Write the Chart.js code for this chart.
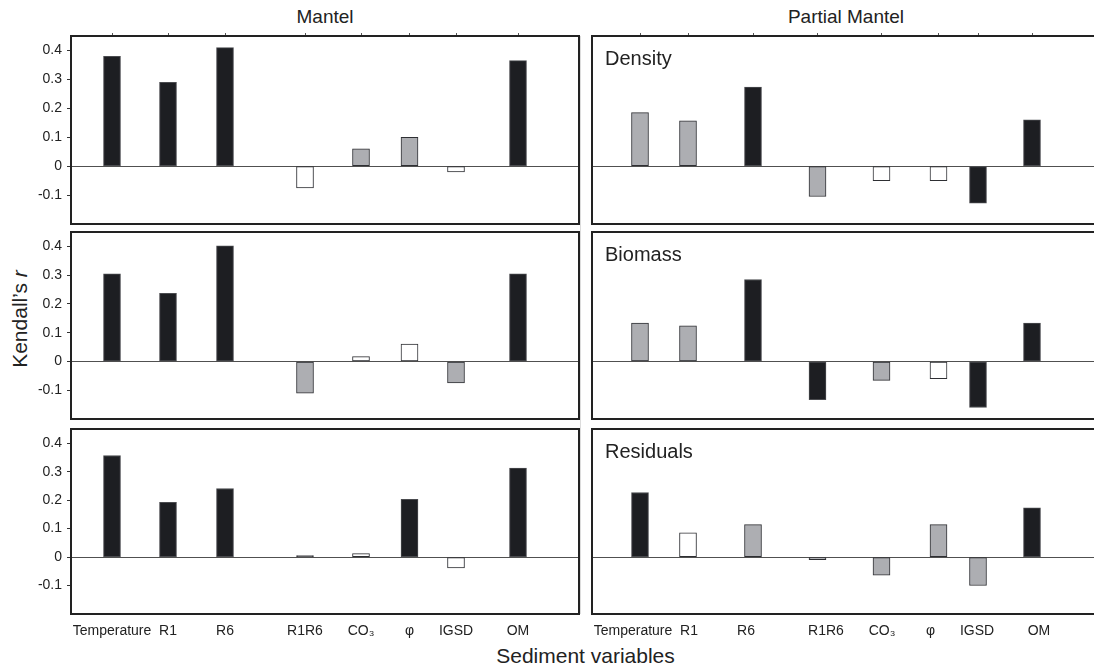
<!DOCTYPE html>
<html>
<head>
<meta charset="utf-8">
<script src="https://cdn.jsdelivr.net/npm/chart.js@4"></script>
<style>
html,body{margin:0;padding:0;background:#fff;overflow:hidden;width:1094px;height:668px;}
body{position:relative;font-family:"Liberation Sans",Arial,Helvetica,sans-serif;color:#222;}
canvas{position:absolute;}
.t{position:absolute;white-space:nowrap;color:#222;}
</style>
</head>
<body>
<div class="t" style="left:71px;top:6px;width:508px;text-align:center;font-size:19px;line-height:22px;">Mantel</div>
<div class="t" style="left:592px;top:6px;width:508px;text-align:center;font-size:19px;line-height:22px;">Partial Mantel</div>
<div class="t" style="left:20px;top:319px;font-size:21px;line-height:24px;transform:translate(-50%,-50%) rotate(-90deg);">Kendall’s <i>r</i></div>
<div class="t" style="left:71px;top:644px;width:1029px;text-align:center;font-size:21px;line-height:24px;">Sediment variables</div>
<div style="position:absolute;left:580px;top:36px;width:1px;height:578px;background:#dcdcdc;"></div>

<canvas id="c00"></canvas><canvas id="c01"></canvas>
<canvas id="c10"></canvas><canvas id="c11"></canvas>
<canvas id="c20"></canvas><canvas id="c21"></canvas>

<script>
// ---------------- data ----------------
const categories = ['Temperature', 'R1', 'R6', 'R1R6', 'CO\u2083', '\u03C6', 'IGSD', 'OM'];
const yTickValues = [-0.1, 0, 0.1, 0.2, 0.3, 0.4];
const panelLabels = ['Density', 'Biomass', 'Residuals'];

// Mantel (left column)
const mantelDensity      = [0.380, 0.290, 0.410, -0.075, 0.060, 0.100, -0.020, 0.365];
const mantelDensitySig   = ['high', 'high', 'high', 'ns', 'mid', 'mid', 'ns', 'high'];
const mantelBiomass      = [0.305, 0.237, 0.402, -0.110, 0.017, 0.060, -0.075, 0.305];
const mantelBiomassSig   = ['high', 'high', 'high', 'mid', 'ns', 'ns', 'mid', 'high'];
const mantelResiduals    = [0.357, 0.192, 0.241, 0.005, 0.012, 0.203, -0.038, 0.313];
const mantelResidualsSig = ['high', 'high', 'high', 'high', 'ns', 'high', 'ns', 'high'];

// Partial Mantel (right column)
const partialDensity      = [0.185, 0.157, 0.273, -0.105, -0.050, -0.050, -0.128, 0.160];
const partialDensitySig   = ['mid', 'mid', 'high', 'mid', 'ns', 'ns', 'high', 'high'];
const partialBiomass      = [0.133, 0.124, 0.285, -0.133, -0.066, -0.060, -0.160, 0.133];
const partialBiomassSig   = ['mid', 'mid', 'high', 'high', 'mid', 'ns', 'high', 'high'];
const partialResiduals    = [0.227, 0.085, 0.114, -0.009, -0.064, 0.114, -0.100, 0.173];
const partialResidualsSig = ['high', 'ns', 'mid', 'mid', 'mid', 'mid', 'mid', 'high'];

// ---------------- layout (positions along each panel's x scale 0..508) ----------------
const labelPos      = [41, 97, 154, 234, 290, 338.5, 385, 447];
const mantelCatPos  = [41, 97, 154, 234, 290, 338.5, 385, 447];
const partialCatPos = [48, 96, 161, 225.5, 289.5, 346.5, 386, 440];
const X_MAX = 508;
const rows = [{top: 36, bottom: 224}, {top: 232, bottom: 419}, {top: 429, bottom: 614}];
const cols = [
  {canvasLeft: 0,   width: 590, axisW: 71, padR: 11},
  {canvasLeft: 582, width: 528, axisW: 10, padR: 10}
];

const FONT = '"Liberation Sans", Arial, Helvetica, sans-serif';
const sigFill   = {high: '#1d1e22', mid: '#adaeb2', ns: '#ffffff'};
const sigBorder = {high: '#4a4b4f', mid: '#2e2f33', ns: '#2e2f33'};

const framePlugin = {
  id: 'frame',
  afterDatasetsDraw(chart, args, opts) {
    const {ctx, chartArea: a} = chart;
    ctx.save();
    ctx.strokeStyle = '#222';
    ctx.lineWidth = 2;
    ctx.strokeRect(a.left, a.top, a.right - a.left, a.bottom - a.top);
    if (opts.label) {
      ctx.fillStyle = '#222';
      ctx.font = '20px ' + FONT;
      ctx.textBaseline = 'alphabetic';
      ctx.textAlign = 'left';
      ctx.fillText(opts.label, a.left + 13, a.top + 29);
    }
    ctx.restore();
  }
};

function noPad(s) { s.paddingTop = 0; s.paddingBottom = 0; s.paddingLeft = 0; s.paddingRight = 0; }

function makePanel(row, col, values, sig, label) {
  const r = rows[row], c = cols[col];
  const isTop = row === 0, isBottom = row === 2;
  const padT = isTop ? 8 : 6;
  const padB = isBottom ? 44 : 6;
  const pos = col === 0 ? mantelCatPos : partialCatPos;
  const canvas = document.getElementById('c' + row + col);
  canvas.width = c.width;
  canvas.height = (r.bottom - r.top) + padT + padB;
  canvas.style.left = c.canvasLeft + 'px';
  canvas.style.top = (r.top - padT) + 'px';

  const scales = {
    x: {
      type: 'linear', min: 0, max: X_MAX, position: 'bottom', offset: false,
      afterBuildTicks: s => { s.ticks = labelPos.map(v => ({value: v})); },
      afterFit: s => { s.height = padB; noPad(s); },
      grid: {display: false, drawTicks: false, offset: false},
      border: {display: false},
      ticks: {
        display: isBottom, autoSkip: false, maxRotation: 0, minRotation: 0, padding: 9,
        color: '#222', font: {family: FONT, size: 14},
        callback: (v, i) => categories[i]
      }
    },
    y: {
      type: 'linear', min: -0.2, max: 0.45, position: 'left',
      afterBuildTicks: s => { s.ticks = yTickValues.map(v => ({value: v})); },
      afterFit: s => { s.width = c.axisW; noPad(s); },
      border: {display: false},
      grid: {
        color: ctx => (ctx.tick && ctx.tick.value === 0) ? '#505050' : 'rgba(0,0,0,0)',
        lineWidth: 1,
        drawTicks: col === 0, tickLength: 4, tickColor: '#333', tickWidth: 1
      },
      ticks: {
        display: col === 0, padding: 5, color: '#222',
        font: {family: FONT, size: 14},
        callback: v => v === 0 ? '0' : v.toFixed(1)
      }
    }
  };
  if (isTop) {
    scales.xTop = {
      type: 'linear', min: 0, max: X_MAX, position: 'top', offset: false,
      afterBuildTicks: s => { s.ticks = pos.map(v => ({value: v})); },
      afterFit: s => { s.height = padT; noPad(s); },
      border: {display: false},
      grid: {color: 'rgba(0,0,0,0)', drawTicks: true, tickLength: 3, tickColor: '#555', tickWidth: 1, offset: false},
      ticks: {display: false}
    };
  }

  return new Chart(canvas, {
    type: 'bar',
    data: {
      datasets: [{
        data: values.map((v, i) => ({x: pos[i], y: v})),
        backgroundColor: sig.map(s => sigFill[s]),
        borderColor: sig.map(s => sigBorder[s]),
        borderWidth: 1,
        borderSkipped: false,
        barThickness: 17
      }]
    },
    options: {
      responsive: false,
      animation: false,
      devicePixelRatio: 1,
      layout: {padding: {top: isTop ? 0 : padT, right: c.padR, bottom: 0, left: 0}},
      plugins: {legend: {display: false}, tooltip: {enabled: false}, frame: {label: label}},
      scales: scales
    },
    plugins: [framePlugin]
  });
}

makePanel(0, 0, mantelDensity, mantelDensitySig, null);
makePanel(1, 0, mantelBiomass, mantelBiomassSig, null);
makePanel(2, 0, mantelResiduals, mantelResidualsSig, null);
makePanel(0, 1, partialDensity, partialDensitySig, panelLabels[0]);
makePanel(1, 1, partialBiomass, partialBiomassSig, panelLabels[1]);
makePanel(2, 1, partialResiduals, partialResidualsSig, panelLabels[2]);
</script>
</body>
</html>
